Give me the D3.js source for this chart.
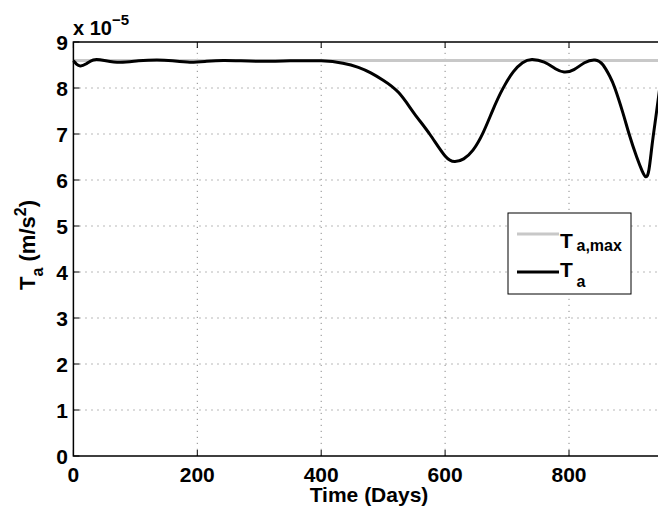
<!DOCTYPE html>
<html>
<head>
<meta charset="utf-8">
<script src="https://cdn.jsdelivr.net/npm/d3@7"></script>
<style>
  html, body { margin: 0; padding: 0; background: #fff; }
  svg { display: block; }
  text { font-family: "Liberation Sans", Arial, Helvetica, sans-serif; font-weight: bold; fill: #000; }
</style>
</head>
<body>
<svg id="chart" width="658" height="511"></svg>
<script>
// Time (days) samples of the available acceleration
const days = [0, 5, 11, 20, 32, 50, 75, 105, 135, 160, 188, 215, 242, 270, 300, 350, 400,
  435, 460, 480, 500, 525, 550, 575, 600, 616, 630, 645, 661, 677, 693, 710, 725, 740,
  760, 778, 792, 808, 825, 842, 855, 866, 874, 887, 897, 909, 918, 924, 929, 934, 940, 946];
// T_a in units of 1e-5 m/s^2
const accel = [8.59, 8.52, 8.48, 8.52, 8.61, 8.60, 8.56, 8.59, 8.61, 8.59, 8.56, 8.58, 8.60, 8.59, 8.58, 8.59, 8.59,
  8.54, 8.45, 8.33, 8.17, 7.90, 7.45, 7.00, 6.52, 6.40, 6.46, 6.65, 7.02, 7.52, 7.98, 8.35, 8.55, 8.62,
  8.56, 8.42, 8.35, 8.40, 8.55, 8.61, 8.50, 8.25, 8.00, 7.46, 7.00, 6.51, 6.20, 6.07, 6.22, 6.75, 7.35, 7.95];
// Maximum available acceleration (constant)
const accelMax = 8.6;
const xDomain = [0, 950];
const yDomain = [0, 9];
const xTicks = [0, 200, 400, 600, 800];
const yTicks = [0, 1, 2, 3, 4, 5, 6, 7, 8, 9];

const svg = d3.select("#chart");
const m = { left: 73.4, top: 42, bottom: 456 };
const x = d3.scaleLinear().domain(xDomain).range([m.left, m.left + 0.6195 * xDomain[1]]);
const y = d3.scaleLinear().domain(yDomain).range([m.bottom, m.top]);
const right = x(xDomain[1]);

// dotted grid
const grid = svg.append("g").attr("stroke", "#8a8a8a").attr("stroke-width", 1)
  .attr("stroke-dasharray", "1.2,4.8");
xTicks.filter(t => t > 0).forEach(t => {
  grid.append("line").attr("x1", x(t)).attr("x2", x(t)).attr("y1", m.bottom).attr("y2", m.top);
});
yTicks.filter(t => t > 0 && t < 9).forEach(t => {
  grid.append("line").attr("x1", m.left).attr("x2", right).attr("y1", y(t)).attr("y2", y(t));
});

// curves
const line = d3.line().x(d => x(d[0])).y(d => y(d[1])).curve(d3.curveNatural);
svg.append("line").attr("x1", x(xDomain[0])).attr("x2", right)
  .attr("y1", y(accelMax)).attr("y2", y(accelMax))
  .attr("stroke", "#c8c8c8").attr("stroke-width", 3);
svg.append("path").datum(days.map((d, i) => [d, accel[i]])).attr("d", line)
  .attr("fill", "none").attr("stroke", "#000").attr("stroke-width", 3).attr("stroke-linejoin", "round");

// axes frame
const ax = svg.append("g").attr("stroke", "#000").attr("stroke-width", 1.5).attr("fill", "none");
ax.append("path").attr("d", `M${right},${m.top}H${m.left}V${m.bottom}H${right}`);

// ticks (inward)
const tk = svg.append("g").attr("stroke", "#000").attr("stroke-width", 1);
xTicks.forEach(t => {
  tk.append("line").attr("x1", x(t)).attr("x2", x(t)).attr("y1", m.bottom).attr("y2", m.bottom - 6);
  tk.append("line").attr("x1", x(t)).attr("x2", x(t)).attr("y1", m.top).attr("y2", m.top + 6);
});
yTicks.forEach(t => {
  tk.append("line").attr("x1", m.left).attr("x2", m.left + 6).attr("y1", y(t)).attr("y2", y(t));
});

// tick labels
const fs = 21;
svg.append("g").selectAll("text").data(xTicks).join("text")
  .attr("x", d => x(d)).attr("y", 481.5).attr("text-anchor", "middle")
  .attr("font-size", fs).text(d => d);
svg.append("g").selectAll("text").data(yTicks).join("text")
  .attr("x", 68).attr("y", d => y(d)).attr("dy", "0.36em").attr("text-anchor", "end")
  .attr("font-size", fs).text(d => d);

// exponent
const ex = svg.append("text").attr("x", 73).attr("y", 34.5).attr("font-size", 20);
ex.append("tspan").text("x 10");
ex.append("tspan").attr("font-size", 15).attr("dy", -10).text("\u22125");

// axis titles
svg.append("text").attr("x", 369).attr("y", 502).attr("text-anchor", "middle")
  .attr("font-size", fs).text("Time (Days)");
const yl = svg.append("text").attr("transform", "translate(35,245) rotate(-90)")
  .attr("text-anchor", "middle").attr("font-size", 22);
yl.append("tspan").text("T");
yl.append("tspan").attr("font-size", 16).attr("dy", 8).text("a");
yl.append("tspan").attr("dy", -8).text(" (m/s");
yl.append("tspan").attr("font-size", 16).attr("dy", -9).text("2");
yl.append("tspan").attr("dy", 9).text(")");

// legend
const lg = svg.append("g");
lg.append("rect").attr("x", 508).attr("y", 213).attr("width", 123).attr("height", 81)
  .attr("fill", "#fff").attr("stroke", "#000").attr("stroke-width", 1);
const entries = [
  { label: "a,max", color: "#c8c8c8", ly: 234, ty: 248, sy: 251 },
  { label: "a", color: "#000", ly: 272, ty: 277, sy: 287 }
];
entries.forEach(e => {
  lg.append("line").attr("x1", 517).attr("x2", 559).attr("y1", e.ly).attr("y2", e.ly)
    .attr("stroke", e.color).attr("stroke-width", 3);
  lg.append("text").attr("x", 560).attr("y", e.ty).attr("font-size", fs).text("T");
  lg.append("text").attr("x", 576.5).attr("y", e.sy).attr("font-size", 16).text(e.label);
});
</script>
</body>
</html>
